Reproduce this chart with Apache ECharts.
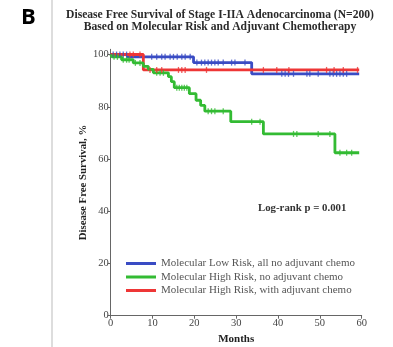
<!DOCTYPE html>
<html><head><meta charset="utf-8">
<script src="https://cdn.jsdelivr.net/npm/echarts@6/dist/echarts.min.js"></script>
<style>html,body{margin:0;padding:0;background:#fff}#c{width:393px;height:347px}</style>
</head><body><div id="c"></div>
<script>
// ---- data (months, survival %) ----
const xTicks = [0, 10, 20, 30, 40, 50, 60];
const yTicks = [0, 20, 40, 60, 80, 100];
const seriesNames = [
  'Molecular Low Risk, all no adjuvant chemo',
  'Molecular High Risk, no adjuvant chemo',
  'Molecular High Risk, with adjuvant chemo'
];
// step curves: event times and survival after each event
const lowTimes = [0, 4.0, 19.8, 33.7, 59.4];
const lowSurv  = [100, 99.1, 96.9, 92.6, 92.6];
const highNoTimes = [0, 0.3, 2.6, 5.4, 7.8, 9.0, 10.2, 13.8, 14.5, 15.2, 18.8, 20.4, 21.5, 22.5, 28.7, 36.5, 53.6, 59.4];
const highNoSurv  = [100, 99.1, 98.0, 96.8, 95.5, 94.3, 93.0, 91.5, 89.6, 87.3, 85.0, 82.5, 80.5, 78.3, 74.3, 69.6, 62.4, 62.4];
const highChemoTimes = [0, 7.8, 59.4];
const highChemoSurv  = [100, 94.1, 94.1];
// censor times
const lowCensor = [0.6, 1.4, 2.2, 3.0, 3.8, 9.8, 11.0, 12.2, 13.0, 14.2, 15.0, 15.9, 17.0, 17.8, 19.0,
  20.6, 21.7, 22.5, 23.3, 24.1, 24.9, 25.7, 26.9, 28.9, 29.7, 32.1,
  40.9, 41.7, 42.5, 43.7, 46.9, 47.6, 49.6, 52.4, 53.2, 54.0, 54.8, 55.6, 56.4];
const highNoCensor = [0.8, 1.6, 3.0, 3.8, 4.4, 5.9, 7.0, 11.0, 11.8, 12.6, 15.8, 16.4, 17.0, 17.6, 18.2,
  23.3, 24.1, 24.9, 26.9, 33.7, 35.7, 43.7, 44.5, 49.6, 52.4, 54.8, 56.4, 57.6];
const highChemoCensor = [4.6, 5.4, 7.0, 9.4, 11.0, 12.2, 16.2, 17.0, 17.8, 22.9, 36.5, 39.7, 42.6, 51.6, 53.4, 55.6, 59.0];

const colors = ['#3a4cc4', '#33bb33', '#ee3636'];

function pairs(t, s) { return t.map((v, i) => [v, s[i]]); }
function lookup(t, s, x) { let v = s[0]; for (let i = 0; i < t.length; i++) { if (t[i] <= x) v = s[i]; } return v; }
function censorPts(ct, t, s) { return ct.map(x => [x, lookup(t, s, x)]); }

const curves = [
  [lowTimes, lowSurv, lowCensor],
  [highNoTimes, highNoSurv, highNoCensor],
  [highChemoTimes, highChemoSurv, highChemoCensor]
];
const series = [];
curves.forEach((c, i) => {
  series.push({
    name: seriesNames[i], type: 'line', step: 'end', data: pairs(c[0], c[1]),
    showSymbol: false, symbol: 'none', clip: false,
    lineStyle: { color: colors[i], width: 2.8 }, itemStyle: { color: colors[i] },
    z: i === 1 ? 3 : 2
  });
  series.push({
    name: seriesNames[i] + ' censor', type: 'scatter', data: censorPts(c[2], c[0], c[1]),
    symbol: 'rect', symbolSize: [1.3, 6], itemStyle: { color: colors[i] }, silent: true, z: 4
  });
});

const serif = 'Liberation Serif';
const chart = echarts.init(document.getElementById('c'), null, { renderer: 'canvas' });
chart.setOption({
  animation: false,
  title: {
    text: 'Disease Free Survival of Stage I-IIA Adenocarcinoma (N=200)\nBased on Molecular Risk and Adjuvant Chemotherapy',
    left: 220, top: 8.5, textAlign: 'center', padding: 0,
    textStyle: { fontFamily: serif, fontWeight: 'bold', fontSize: 11.6, lineHeight: 12.5, color: '#2a2a2a' }
  },
  grid: { left: 110.7, right: 31.3, top: 49.3, bottom: 31.3, outerBoundsMode: 'none', containLabel: false },
  legend: {
    data: seriesNames, orient: 'vertical', left: 126, top: 258,
    icon: 'rect', itemWidth: 30, itemHeight: 3, itemGap: 2.5, itemStyle: { borderWidth: 0 },
    textStyle: { fontFamily: serif, fontSize: 11, lineHeight: 11, color: '#555' },
    padding: 0
  },
  xAxis: {
    type: 'value', min: 0, max: 60, interval: 10,
    name: 'Months', nameLocation: 'middle', nameGap: 18, nameMoveOverlap: false,
    nameTextStyle: { fontFamily: serif, fontWeight: 'bold', fontSize: 11, color: '#222' },
    axisLine: { lineStyle: { color: '#666', width: 1 } },
    axisTick: { show: true, length: 3, lineStyle: { color: '#666' } },
    axisLabel: { fontFamily: serif, fontSize: 10.5, color: '#444', margin: 2 },
    splitLine: { show: false }
  },
  yAxis: {
    type: 'value', min: 0, max: 102,
    name: 'Disease Free Survival, %', nameLocation: 'middle', nameGap: 22, nameRotate: 90, nameMoveOverlap: false,
    nameTextStyle: { fontFamily: serif, fontWeight: 'bold', fontSize: 10.8, color: '#222' },
    axisLine: { show: true, lineStyle: { color: '#666', width: 1 } },
    axisTick: { show: true, length: 3, customValues: yTicks, lineStyle: { color: '#666' } },
    axisLabel: { fontFamily: serif, fontSize: 10.5, color: '#444', margin: 2, customValues: yTicks },
    splitLine: { show: false }
  },
  graphic: [
    { type: 'line', shape: { x1: 52, y1: 0, x2: 52, y2: 347 }, style: { stroke: '#bbbbbb', lineWidth: 1 } },
    { type: 'text', left: 21, top: 7, style: { text: 'B', font: 'bold 22px "Open Sans"', fill: '#000' } },
    { type: 'text', left: 258, top: 203, style: { text: 'Log-rank p = 0.001', font: 'bold 10.8px "Liberation Serif"', fill: '#333' } }
  ],
  series: series
});
</script></body></html>
